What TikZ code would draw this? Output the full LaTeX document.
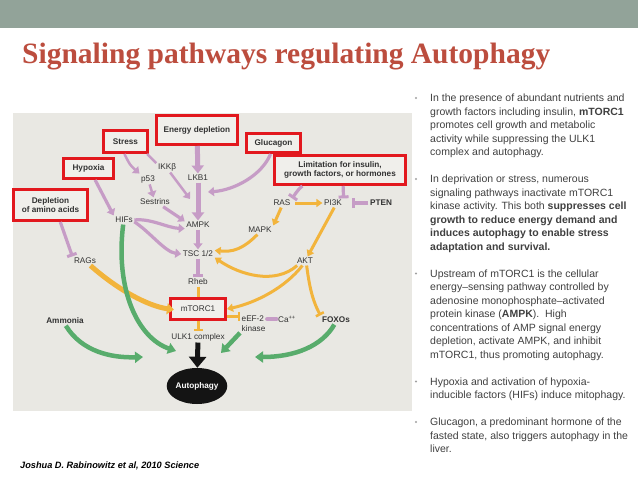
\documentclass[tikz,border=0pt]{standalone}
\usepackage{fontspec}
\setmainfont{Liberation Sans}
\newfontfamily\titlefont{Liberation Serif}
\usetikzlibrary{arrows.meta,shapes.geometric}

\definecolor{band}{RGB}{146,163,153}
\definecolor{titlered}{RGB}{188,77,62}
\definecolor{panel}{RGB}{233,232,227}
\definecolor{boxfill}{RGB}{240,239,235}
\definecolor{boxred}{RGB}{226,24,30}
\definecolor{mauve}{RGB}{198,156,198}
\definecolor{gold}{RGB}{242,180,60}
\definecolor{leaf}{RGB}{88,172,108}
\definecolor{nearblack}{RGB}{20,20,20}
\definecolor{bodytext}{RGB}{64,64,64}
\definecolor{labeltext}{RGB}{50,50,50}
\definecolor{bulletgray}{RGB}{160,160,160}

\newcommand\lblfont{\fontsize{8.2}{9.5}\selectfont}

\tikzset{
 lbl/.style={font=\lblfont, text=labeltext, inner sep=1.5pt},
 blbl/.style={lbl, font=\lblfont\bfseries},
 redbox/.style={draw=boxred, line width=3pt, fill=boxfill, blbl, align=center, inner sep=1pt},
 pur/.style={draw=mauve, line width=3.2pt, -{Triangle[width=9pt,length=6pt]}},
 purthick/.style={draw=mauve, line width=5pt, -{Triangle[width=12pt,length=8pt]}},
 purbar/.style={draw=mauve, line width=3.2pt, -{Bar[width=10pt,line width=3pt]}},
 purline/.style={draw=mauve, line width=3pt},
 gld/.style={draw=gold, line width=3pt, -{Triangle[width=8pt,length=6pt]}},
 gldthick/.style={draw=gold, line width=5pt, -{Triangle[width=11pt,length=7pt]}},
 gldbar/.style={draw=gold, line width=3pt, -{Bar[width=9pt,line width=2.5pt]}},
 gldline/.style={draw=gold, line width=3pt},
 grn/.style={draw=leaf, line width=4.5pt, -{Triangle[width=11pt,length=8pt]}},
 blk/.style={draw=nearblack, line width=5pt, -{Triangle[width=17pt,length=11pt]}},
 rt/.style={anchor=base west, inner sep=0, font=\fontsize{10.5}{12}\selectfont, text=bodytext},
 bul/.style={circle, fill=bulletgray, minimum size=2.2pt, inner sep=0}
}

\begin{document}
\begin{tikzpicture}[x=1pt,y=-1pt]
\path[use as bounding box] (0,0) rectangle (638,479);
\fill[white] (0,0) rectangle (638,479);
\fill[band] (0,0) rectangle (638,28);
\node[anchor=base west, font=\titlefont\bfseries\fontsize{29.5}{32}\selectfont, text=titlered, inner sep=0] (title) at (22,63) {Signaling pathways regulating Autophagy};

% diagram panel
\fill[panel] (13,113) rectangle (412,411);

% boxed inputs
\node[redbox, minimum width=81pt, minimum height=29pt] (ed) at (197,130) {Energy depletion};
\node[redbox, minimum width=44pt, minimum height=22pt] (stress) at (125.5,141.5) {Stress};
\node[redbox, minimum width=50pt, minimum height=20pt] (hyp) at (88.5,168.5) {Hypoxia};
\node[redbox, minimum width=74pt, minimum height=31pt] (dep) at (50.5,205) {Depletion\\of amino acids};
\node[redbox, minimum width=54pt, minimum height=19pt] (gluc) at (273.5,143) {Glucagon};
\node[redbox, minimum width=131pt, minimum height=29pt] (lim) at (340,170) {Limitation for insulin,\\growth factors, or hormones};
\node[redbox, minimum width=55pt, minimum height=21pt, font=\lblfont] (mtor) at (198,309) {mTORC1};

% labels
\node[lbl] (ikk) at (167,167) {IKKβ};
\node[lbl] (p53) at (148,179) {p53};
\node[lbl] (lkb1) at (198,178) {LKB1};
\node[lbl] (sest) at (155,202) {Sestrins};
\node[lbl] (hifs) at (124,220) {HIFs};
\node[lbl] (ampk) at (198,225) {AMPK};
\node[lbl] (tsc) at (198,254) {TSC 1/2};
\node[lbl] (rheb) at (198,282) {Rheb};
\node[lbl] (ulk) at (198,337) {ULK1 complex};
\node[lbl] (ras) at (282,203) {RAS};
\node[lbl] (pi3k) at (333,203) {PI3K};
\node[blbl] (pten) at (381,203) {PTEN};
\node[lbl] (mapk) at (260,230) {MAPK};
\node[lbl] (akt) at (305,261) {AKT};
\node[lbl] (rags) at (85,261) {RAGs};
\node[blbl] (ammonia) at (65,321) {Ammonia};
\node[lbl, anchor=west, align=left] (eef) at (240,323.5) {eEF-2\\kinase};
\node[lbl] (ca) at (287,319) {Ca\textsuperscript{++}};
\node[blbl] (foxos) at (336,320) {FOXOs};
\node[ellipse, fill=nearblack, minimum width=56pt, minimum height=36pt, text=white, font=\lblfont\bfseries, inner sep=0] (auto) at (197,386) {Autophagy};

% purple connectors
\draw[purthick] (ed) -- (lkb1);
\draw[purthick] (lkb1) -- (ampk);
\draw[pur] (ampk) -- (tsc);
\draw[purbar] (tsc) -- (rheb);
\draw[pur, line width=2.5pt] (stress.-95) .. controls (130,165) .. (p53.north west);
\draw[purline, line width=2.5pt] (stress.-30) -- (ikk.160);
\coordinate (j1) at (190,199);
\draw[pur, line width=2.5pt] (ikk.-60) -- (j1);
\draw[pur, line width=2.5pt] (p53) -- (sest);
\draw[pur] (sest.-30) .. controls (172,212) .. (ampk.165);
\draw[pur] (hyp.-60) -- (hifs.north west);
\draw[pur] (hifs.east) .. controls (150,218) and (168,228) .. (ampk.195);
\draw[pur] (hifs.-10) .. controls (150,232) and (165,252) .. (tsc.west);
\coordinate (j2) at (208,192);
\draw[pur] (gluc.-105) .. controls (262,175) and (235,190) .. (j2);
\draw[purbar] (dep.-60) -- (rags.north west);
\draw[purbar] (lim.203) .. controls (298,190) .. (ras.north east);
\draw[purbar] (lim.-79) -- (pi3k.north east);
\draw[purbar, shorten >=8pt] (pten.west) -- (pi3k.east);
\draw[purline, line cap=round, line width=4pt] (eef.east |- ca) -- (ca.west);

% yellow connectors
\draw[gld, shorten <=3pt] (ras) -- (pi3k);
\draw[gld] (ras.-100) -- (mapk.north east);
\draw[gld] (pi3k.-75) -- (akt.60);
\draw[gld] (mapk.-120) .. controls (242,250) and (232,252) .. (tsc.12);
\draw[gld] (akt.-150) .. controls (275,285) and (240,275) .. (tsc.-12);
\draw[gld] (akt.-120) .. controls (285,288) and (255,303) .. (mtor.east);
\draw[gldbar] (akt.-70) .. controls (310,292) and (314,303) .. (foxos.north west);
\draw[gldthick, shorten >=-5pt] (rags.-40) .. controls (118,290) and (148,306) .. (mtor.west);
\draw[gldline] (rheb) -- (mtor);
\draw[gldbar] (mtor) -- (ulk);
\draw[gldbar] (mtor.-15) -- (eef.west |- mtor.-15);

% green connectors
\coordinate (ga) at (176,351);
\coordinate (gb) at (143,357);
\coordinate (gc) at (221,353);
\coordinate (gd) at (255,357);
\draw[grn] (hifs.-100) .. controls (115,290) and (138,338) .. (ga);
\draw[grn] (ammonia.-80) .. controls (82,352) and (112,358) .. (gb);
\draw[grn] (eef.south west) -- (gc);
\draw[grn] (foxos.-110) .. controls (322,346) and (295,357) .. (gd);

% black arrow
\draw[blk] (ulk) -- (auto);

% citation
\node[anchor=base west, font=\fontsize{9.2}{11}\selectfont\bfseries\itshape, inner sep=0] (cite) at (20,468.5) {Joshua D. Rabinowitz et al, 2010 Science};

% right-hand text
\node[bul] (b1) at (416,98) {};
\node[bul] (b2) at (416,179) {};
\node[bul] (b3) at (416,273.5) {};
\node[bul] (b4) at (416,381.5) {};
\node[bul] (b5) at (416,422) {};

\node[rt] (r0) at (430,101.5) {In the presence of abundant nutrients and};
\node[rt] (r1) at (430,115) {growth factors including insulin, \textbf{mTORC1}};
\node[rt] (r2) at (430,128.5) {promotes cell growth and metabolic};
\node[rt] (r3) at (430,142) {activity while suppressing the ULK1};
\node[rt] (r4) at (430,155.5) {complex and autophagy.};
\node[rt] (r6) at (430,182.5) {In deprivation or stress, numerous};
\node[rt] (r7) at (430,196) {signaling pathways inactivate mTORC1};
\node[rt] (r8) at (430,209.5) {kinase activity. This both \textbf{suppresses cell}};
\node[rt] (r9) at (430,223) {\textbf{growth to reduce energy demand and}};
\node[rt] (r10) at (430,236.5) {\textbf{induces autophagy to enable stress}};
\node[rt] (r11) at (430,250) {\textbf{adaptation and survival.}};
\node[rt] (r13) at (430,277) {Upstream of mTORC1 is the cellular};
\node[rt] (r14) at (430,290.5) {energy–sensing pathway controlled by};
\node[rt] (r15) at (430,304) {adenosine monophosphate–activated};
\node[rt] (r16) at (430,317.5) {protein kinase (\textbf{AMPK}). \ High};
\node[rt] (r17) at (430,331) {concentrations of AMP signal energy};
\node[rt] (r18) at (430,344.5) {depletion, activate AMPK, and inhibit};
\node[rt] (r19) at (430,358) {mTORC1, thus promoting autophagy.};
\node[rt] (r21) at (430,385) {Hypoxia and activation of hypoxia-};
\node[rt] (r22) at (430,398.5) {inducible factors (HIFs) induce mitophagy.};
\node[rt] (r24) at (430,425.5) {Glucagon, a predominant hormone of the};
\node[rt] (r25) at (430,439) {fasted state, also triggers autophagy in the};
\node[rt] (r26) at (430,452.5) {liver.};
\end{tikzpicture}
\end{document}
